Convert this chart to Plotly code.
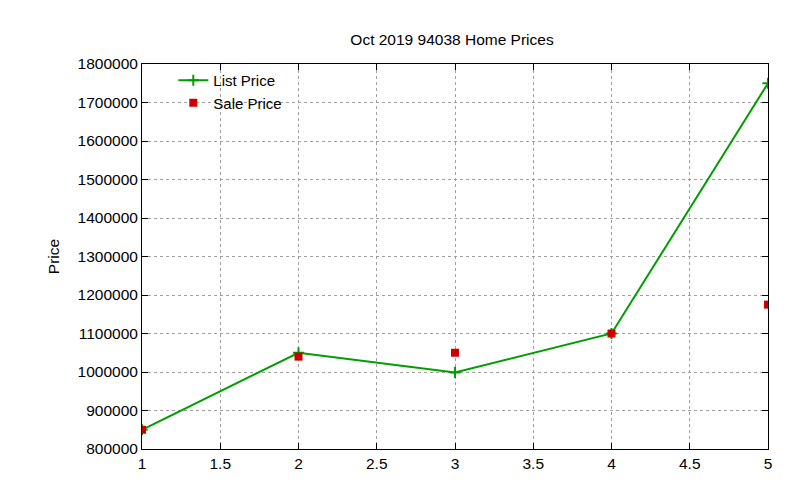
import plotly.graph_objects as go

x_vals = [1, 2, 3, 4, 5]
list_price = [850000, 1050000, 999000, 1100000, 1750000]
sale_price = [850000, 1040000, 1050000, 1100000, 1175000]

fig = go.Figure()
fig.add_trace(go.Scatter(x=x_vals, y=list_price, mode="lines+markers", name="List Price",
                         line=dict(color="#009e00", width=2),
                         marker=dict(symbol="cross-thin", size=8, line=dict(color="#009e00", width=2))))
fig.add_trace(go.Scatter(x=x_vals, y=sale_price, mode="markers", name="Sale Price",
                         marker=dict(symbol="square", size=8, color="#cc0000")))

axis_common = dict(showline=True, linecolor="black", mirror="ticks", ticks="inside", ticklen=6,
                   tickcolor="black", showgrid=True, gridcolor="#a0a0a0", griddash="dot", zeroline=False,
                   automargin=False, tickfont=dict(size=15.5, color="black"))
fig.update_layout(
    width=800, height=480, plot_bgcolor="white", paper_bgcolor="white",
    font=dict(family="Liberation Sans, Arial", size=15, color="black"),
    title=dict(text="Oct 2019 94038 Home Prices", x=0.555, xanchor="center", y=0.945, font=dict(size=15.5)),
    margin=dict(l=134, r=40, t=56, b=39),
    xaxis=dict(range=[1, 5], tickvals=[1, 1.5, 2, 2.5, 3, 3.5, 4, 4.5, 5],
               ticktext=["1", "1.5", "2", "2.5", "3", "3.5", "4", "4.5", "5"], **axis_common),
    yaxis=dict(range=[800000, 1800000], dtick=100000, tickformat="d",
               title=dict(text="Price", standoff=14, font=dict(size=15.5)), **axis_common),
    legend=dict(x=0.05, y=1.0, xanchor="left", yanchor="top", bgcolor="rgba(0,0,0,0)",
                font=dict(size=15)),
)
fig.write_html("out.html")
